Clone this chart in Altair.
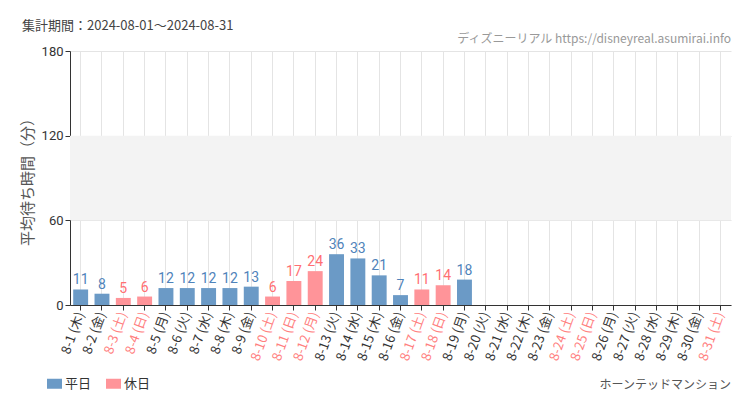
import altair as alt
import pandas as pd

days = [f"8-{d}" for d in range(1, 32)]
weekdays = ["木", "金", "土", "日", "月", "火", "水"]
holidays = [3, 4, 10, 11, 12, 17, 18, 24, 25, 31]
values = [11, 8, 5, 6, 12, 12, 12, 12, 13, 6, 17, 24, 36, 33, 21, 7, 11, 14, 18]

labels = [f"{d} ({weekdays[i % 7]})" for i, d in enumerate(days)]
kinds = ["休日" if (i + 1) in holidays else "平日" for i in range(31)]
holiday_labels = [labels[i] for i in range(31) if kinds[i] == "休日"]

df = pd.DataFrame({
    "label": labels[:len(values)],
    "value": values,
    "kind": kinds[:len(values)],
})

FONT = "Noto Sans CJK JP"
NUM_FONT = "Roboto, sans-serif"
BLUE = "#6b9ac6"
PINK = "#ff9499"
BLUE_T = "#4f83ba"
PINK_T = "#ff6f73"

W, H = 661, 254

hol_js = "[" + ",".join(f"'{l}'" for l in holiday_labels) + "]"
xscale = alt.Scale(domain=labels, paddingInner=0.3, paddingOuter=0.15)

xenc = alt.X("label:N", sort=labels, scale=xscale,
             axis=alt.Axis(title=None, labelAngle=-70, labelFontSize=13, labelFont=FONT,
                           labelColor=alt.expr(f"indexof({hol_js}, datum.value) >= 0 ? '#ff8080' : '#333333'"),
                           domainColor="#333", tickColor="#333", tickSize=5, grid=True,
                           gridColor="#e4e4e4", labelPadding=2))
yscale = alt.Scale(domain=[0, 180], nice=False)

band = alt.Chart(pd.DataFrame({"a": [60], "b": [120]})).mark_rect(color="#f3f3f3").encode(
    y=alt.Y("a:Q", scale=yscale), y2="b:Q", x=alt.value(0), x2=alt.value(W))

bars = alt.Chart(df).mark_bar().encode(
    x=xenc,
    y=alt.Y("value:Q", scale=yscale,
            axis=alt.Axis(values=[0, 60, 120, 180], title="平均待ち時間（分）", titleFont=FONT,
                          titleFontSize=15, titleFontWeight="normal", titleColor="#555",
                          titlePadding=6, labelFontSize=13, labelFont=NUM_FONT, labelColor="#333",
                          domainColor="#333", tickColor="#333", tickSize=5, gridColor="#e4e4e4")),
    color=alt.Color("kind:N", scale=alt.Scale(domain=["平日", "休日"], range=[BLUE, PINK]),
                    legend=alt.Legend(title=None, orient="none", direction="horizontal",
                                      legendX=-22, legendY=326, symbolType="M-1.5,-1H1.5V1H-1.5Z",
                                      symbolSize=100, symbolStrokeWidth=0, symbolOpacity=1,
                                      labelFont=FONT, labelFontSize=13, labelColor="#333",
                                      columnPadding=14)),
)

text = alt.Chart(df).mark_text(dy=-9, fontSize=14, font=NUM_FONT).encode(
    x=alt.X("label:N", sort=labels, scale=xscale),
    y=alt.Y("value:Q", scale=yscale),
    text="value:Q",
    color=alt.Color("kind:N", scale=alt.Scale(domain=["平日", "休日"], range=[BLUE_T, PINK_T]), legend=None),
)

def note(txt, x, y, align, size, color, font=FONT):
    return alt.Chart(pd.DataFrame({"t": [txt]})).mark_text(
        align=align, baseline="middle", fontSize=size, color=color, font=font).encode(
        text="t:N", x=alt.value(x), y=alt.value(y))

t1 = note("集計期間：2024-08-01～2024-08-31", -48, -25, "left", 13, "#444")
t2 = note("ディズニーリアル https://disneyreal.asumirai.info", W, -12, "right", 12, "#999")
t3 = note("ホーンテッドマンション", W, 334, "right", 12, "#555")

chart = alt.layer(band, bars, text, t1, t2, t3).resolve_scale(color="independent").properties(
    width=W, height=H,
    autosize=alt.AutoSizeParams(type="none"),
    padding={"left": 62, "top": 43, "right": 11, "bottom": 97},
    background="white",
).configure_view(stroke=None)

chart.save("out.html", embed_options={"renderer": "svg", "actions": False})
